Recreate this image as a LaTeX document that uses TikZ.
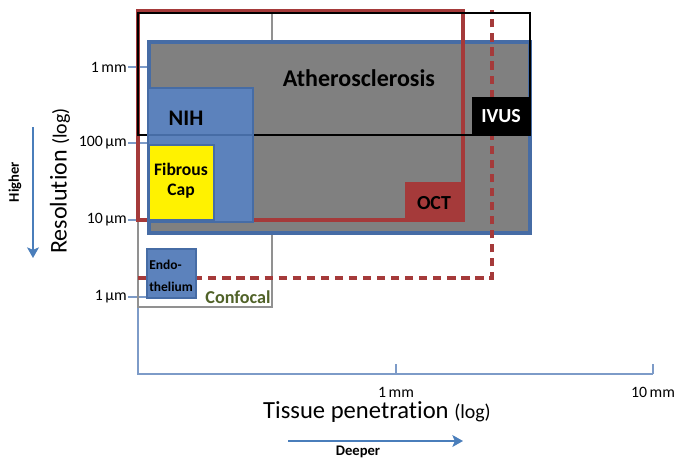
\documentclass[tikz,border=0pt]{standalone}
\usepackage{fontspec}
\setmainfont[Ligatures=NoCommon]{Carlito}
\usetikzlibrary{arrows.meta}
\definecolor{axblue}{RGB}{125,155,200}
\definecolor{edgeblue}{RGB}{70,108,165}
\definecolor{nihblue}{RGB}{92,130,188}
\definecolor{plaquegray}{RGB}{128,128,128}
\definecolor{octred}{RGB}{165,58,58}
\definecolor{confgray}{RGB}{145,145,145}
\definecolor{confgreen}{RGB}{80,98,40}
\definecolor{arrowblue}{RGB}{74,126,187}
\tikzset{
  txt/.style={inner sep=0pt,font=\fontsize{#1}{#1}\selectfont},
  btxt/.style={inner sep=0pt,font=\fontsize{#1}{#1}\selectfont\bfseries},
  tick/.style={axblue,line width=0.9pt},
}

\begin{document}
\begin{tikzpicture}[x=0.03cm,y=-0.03cm]
    \newcommand{\Lx}{138}
    \useasboundingbox (0,0) rectangle (688,465);
    %\draw[help lines,step=50] (0,0) grid (688,465);
	% axes and ticks
	\draw[axblue,line width=1.1pt] (\Lx,12)--(\Lx,374)--(653,374);
	\draw[tick] (396,364)--(396,374);
	\draw[tick] (653,364)--(653,374);
	\node[txt=13.5] (xa) at (396,392) {1\,mm};
	\node[txt=13.5] (xb) at (653,392) {10\,mm};
	\foreach \yy/\lab/\nm in {67/1\,mm/ya,143/100\,µm/yb,220/10\,µm/yc,297/1\,µm/yd}{
		\draw[tick] (128,\yy)--(147,\yy);
		\node[txt=13.5,anchor=east] (\nm) at (127,\yy) {\lab};
	}
	% confocal
	\draw[confgray,line width=1.5pt] (\Lx,12) rectangle (272,307);
	% atherosclerosis
	\draw[edgeblue,fill=plaquegray,line width=3.4pt] (148.7,42) rectangle (529.7,233);
	% oct
	\draw[octred,line width=2.6pt,dash pattern=on 7pt off 5pt] (\Lx,278)--(492,278)--(492,10);
	\draw[octred,line width=2.6pt] (\Lx,11) rectangle (463,220);
	\fill[octred] (405,182) rectangle (463,220);
	% ivus
	\draw[black,line width=1.8pt] (\Lx,13) rectangle (530,135);
	\fill[black] (472,97) rectangle (531,135);
	% nih, fibrous cap, endothelium
	\draw[edgeblue,fill=nihblue,line width=2pt] (148,88) rectangle (253,222);
	\draw[edgeblue,line width=1.5pt] (148,135)--(253,135);
	\draw[edgeblue,fill=yellow,line width=1.5pt] (149,145) rectangle (214,220);
	\draw[edgeblue,fill=nihblue,line width=1pt] (147,249) rectangle (196,298);
	% labels
	\node[btxt=20.5] (ath) at (359,78) {Atherosclerosis};
	\node[btxt=19] (nih) at (186,118) {NIH};
	\node[inner sep=0pt,font=\fontsize{15}{17}\selectfont\bfseries,align=center] (cap) at (181,181) {Fibrous\\Cap};
	\node[btxt=17,white] (ivus) at (501,116) {IVUS};
	\node[btxt=17] (oct) at (434,203) {OCT};
	\node[inner sep=0pt,font=\fontsize{11.5}{18.5}\selectfont\bfseries,align=left] (endo) at (171,276) {Endo-\\thelium};
	\node[btxt=15.5,confgreen] (conf) at (238,297) {Confocal};
	\node[txt=20.5,rotate=90] (res) at (60,181) {Resolution {\fontsize{17}{17}\selectfont(log)}};
	\node[btxt=12.5,rotate=90] (hi) at (15,182) {Higher};
	\node[txt=21] (pen) at (377,412) {Tissue penetration {\fontsize{17}{17}\selectfont(log)}};
	\node[btxt=12.5] (deep) at (358,452) {Deeper};
	% direction arrows
	\coordinate (h1) at (33,127);
	\coordinate (h2) at (33,258);
	\coordinate (d1) at (288,441);
	\coordinate (d2) at (463,441);
	\draw[arrowblue,line width=2.4pt,-{Stealth[length=9pt,width=10pt,inset=2pt]}] (h1)--(h2);
	\draw[arrowblue,line width=2.4pt,-{Stealth[length=9pt,width=10pt,inset=2pt]}] (d1)--(d2);
\end{tikzpicture}
\end{document}
